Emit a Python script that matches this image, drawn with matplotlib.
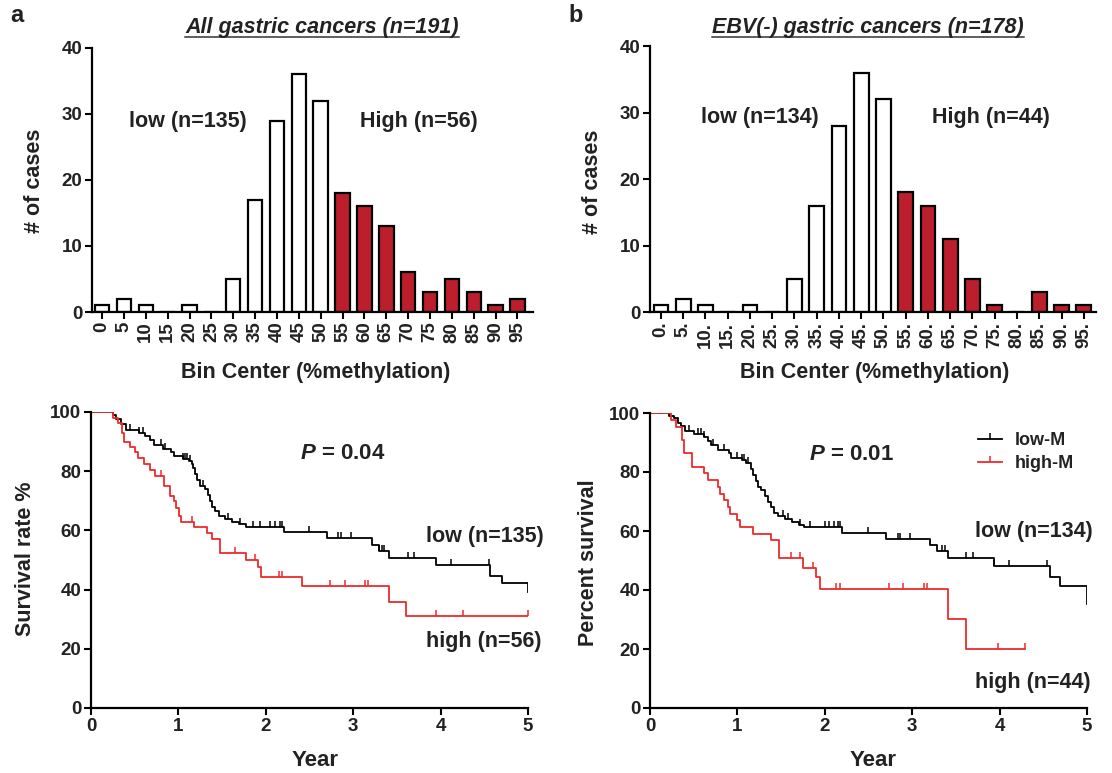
import numpy as np
import matplotlib
matplotlib.use('Agg')
import matplotlib.pyplot as plt
from matplotlib.lines import Line2D

plt.rcParams['font.family'] = ['Liberation Sans', 'DejaVu Sans']
plt.rcParams['font.weight'] = 'bold'
plt.rcParams['axes.labelweight'] = 'bold'
plt.rcParams['mathtext.fontset'] = 'custom'
plt.rcParams['mathtext.it'] = 'Liberation Sans:italic:bold'
plt.rcParams['mathtext.rm'] = 'Liberation Sans:bold'

# ---- histogram data ----
bins = list(range(0, 100, 5))
counts_all = [1, 2, 1, 0, 1, 0, 5, 17, 29, 36, 32, 18, 16, 13, 6, 3, 5, 3, 1, 2]
counts_ebv = [1, 2, 1, 0, 1, 0, 5, 16, 28, 36, 32, 18, 16, 11, 5, 1, 0, 3, 1, 1]
labels_all = [str(b) for b in bins]
labels_ebv = [str(b) + '.' for b in bins]
high_cut = 55

# ---- Kaplan-Meier data (year, % survival after event) ----
a_low_t = [0, 0.25, 0.29, 0.34, 0.40, 0.55, 0.62, 0.67, 0.72, 0.82, 0.92, 0.95, 1.05, 1.12,
           1.15, 1.17, 1.19, 1.21, 1.25, 1.30, 1.34, 1.36, 1.38, 1.42, 1.46, 1.53, 1.61, 1.69,
           1.77, 2.21, 2.70, 3.21, 3.29, 3.41, 3.95, 4.57, 4.70, 5.0]
a_low_s = [100, 99, 97.5, 96, 94, 93, 92, 90.5, 89, 87.5, 86.5, 85, 84, 83.5,
           82.5, 81, 79, 77, 75, 74, 72, 70, 68, 66.5, 65, 64, 63, 62,
           61, 59.3, 57.3, 55, 53, 50.8, 48.4, 44.6, 42.1, 39.3]
a_low_cens = [0.45, 0.55, 0.60, 0.80, 0.85, 1.05, 1.08, 1.10, 1.13, 1.28, 1.57, 1.70, 1.85,
              1.93, 2.05, 2.10, 2.16, 2.19, 2.49, 2.83, 2.86, 2.97, 3.30, 3.33, 3.35, 3.63,
              3.69, 4.12, 4.55]
a_high_t = [0, 0.25, 0.31, 0.35, 0.38, 0.45, 0.50, 0.54, 0.61, 0.67, 0.73, 0.84, 0.90, 0.95,
            0.97, 1.01, 1.03, 1.18, 1.33, 1.39, 1.48, 1.77, 1.91, 1.95, 2.41, 3.41, 3.60, 5.0]
a_high_s = [100, 98, 96.3, 93, 90, 88.2, 86.4, 84.6, 82.6, 80.5, 78.5, 75, 71.5, 69.8,
            67.5, 65, 63, 61, 59, 57, 52.5, 50, 47.5, 44.3, 41.2, 35.9, 31.1, 31.1]
a_high_cens = [0.80, 1.16, 1.65, 1.88, 2.15, 2.19, 2.73, 2.91, 3.13, 3.17, 3.95, 4.26, 5.0]

b_low_t = [0, 0.22, 0.27, 0.32, 0.35, 0.40, 0.50, 0.62, 0.66, 0.70, 0.78, 0.90, 0.93, 1.05,
           1.10, 1.15, 1.18, 1.21, 1.23, 1.27, 1.32, 1.35, 1.38, 1.42, 1.47, 1.55, 1.63, 1.70,
           1.76, 2.20, 2.70, 3.20, 3.28, 3.41, 3.94, 4.58, 4.69, 5.0]
b_low_s = [100, 99, 98.2, 96.5, 95.5, 94, 93, 92, 90.5, 89, 87.5, 86.3, 84.6, 84,
           83, 81, 79, 77, 75, 74, 72, 70, 68, 66, 65, 64, 63, 62,
           61.2, 59.3, 57.3, 55.3, 53.3, 50.7, 48.2, 44.5, 41.4, 35.3]
b_low_cens = [0.45, 0.55, 0.58, 0.62, 0.72, 0.85, 1.00, 1.05, 1.08, 1.12, 1.52, 1.58, 1.72,
              1.83, 2.00, 2.05, 2.10, 2.15, 2.17, 2.49, 2.84, 2.86, 2.97, 3.34, 3.38, 3.62,
              3.69, 3.94, 4.11, 4.54]
b_high_t = [0, 0.24, 0.30, 0.37, 0.39, 0.48, 0.62, 0.66, 0.78, 0.80, 0.85, 0.89, 0.92, 0.99,
            1.03, 1.18, 1.38, 1.48, 1.75, 1.90, 1.95, 3.41, 3.61, 4.29]
b_high_s = [100, 97.7, 95.4, 90.9, 86.4, 81.8, 79.5, 77.3, 75.0, 72.7, 70.5, 68.2, 65.9, 63.6,
            61.4, 59.1, 56.8, 50.7, 47.4, 44.3, 40.3, 30.2, 20.1, 20.1]
b_high_cens = [1.61, 1.72, 1.87, 2.13, 2.17, 2.73, 2.90, 3.13, 3.17, 3.98, 4.29]

RED_BAR = '#bd1e2b'
RED_LINE = '#ee2a2a'
TXT = '#222222'
FS = 15.5

fig = plt.figure(figsize=(11.12, 7.73), dpi=100)
W, H = 1112.0, 773.0


def px_axes(l, t, r, b):
    return fig.add_axes([l / W, 1 - b / H, (r - l) / W, (b - t) / H])


def style(ax):
    for s in ['top', 'right']:
        ax.spines[s].set_visible(False)
    for s in ['left', 'bottom']:
        ax.spines[s].set_linewidth(1.6)
    ax.tick_params(width=1.5, length=5, labelsize=13.5, pad=2, labelcolor=TXT)


def place_labels(ax, xc, yc):
    ax.xaxis.label.set_va('center')
    ax.yaxis.label.set_va('center')
    ax.xaxis.set_label_coords(*xc)
    ax.yaxis.set_label_coords(*yc)


def hist(ax, counts, labels, xlim):
    x = np.arange(len(bins))
    cols = [RED_BAR if b >= high_cut else 'white' for b in bins]
    ax.bar(x, counts, width=0.66, color=cols, edgecolor='black', linewidth=1.6)
    ax.set_xlim(*xlim)
    ax.set_ylim(0, 40)
    ax.set_yticks([0, 10, 20, 30, 40])
    ax.set_xticks(x)
    ax.set_xticklabels(labels, rotation=90, fontsize=12.5)
    style(ax)
    ax.set_ylabel('# of cases', fontsize=FS, color=TXT)
    ax.set_xlabel('Bin Center (%methylation)', fontsize=FS, color=TXT)


def km(ax, t, s, cens, color):
    ax.step(t, s, where='post', color=color, lw=1.3)
    t = np.asarray(t)
    cy = [s[np.searchsorted(t, c, side='right') - 1] for c in cens]
    ax.plot(cens, cy, ls='none', marker=2, ms=4.5, mew=1.1, color=color)


def km_axes(ax, ylabel):
    ax.set_xlim(0, 5)
    ax.set_ylim(0, 100)
    ax.set_xticks(range(6))
    ax.set_yticks(range(0, 101, 20))
    style(ax)
    ax.set_ylabel(ylabel, fontsize=FS, color=TXT)
    ax.set_xlabel('Year', fontsize=FS + 0.5, color=TXT)


def note(ax, x, y, s, size=FS):
    ax.text(x, y, s, transform=ax.transAxes, ha='center', va='center', fontsize=size, color=TXT)


# ---- panel a histogram ----
ax1 = px_axes(92, 48, 533, 312)
hist(ax1, counts_all, labels_all, (-0.46, 19.71))
note(ax1, 0.218, 0.723, 'low (n=135)')
note(ax1, 0.741, 0.723, 'High (n=56)')
place_labels(ax1, (0.508, -0.231), (-0.13, 0.496))

# ---- panel b histogram ----
ax2 = px_axes(650, 46, 1096, 312)
hist(ax2, counts_ebv, labels_ebv, (-0.49, 19.55))
note(ax2, 0.247, 0.733, 'low (n=134)')
note(ax2, 0.765, 0.733, 'High (n=44)')
place_labels(ax2, (0.504, -0.229), (-0.128, 0.489))

# ---- panel a survival ----
ax3 = px_axes(91, 412, 528, 708)
km(ax3, a_low_t, a_low_s, a_low_cens, 'black')
km(ax3, a_high_t, a_high_s, a_high_cens, RED_LINE)
km_axes(ax3, 'Survival rate %')
note(ax3, 0.577, 0.861, r'$P$ = 0.04', size=FS + 0.5)
note(ax3, 0.901, 0.581, 'low (n=135)')
note(ax3, 0.899, 0.226, 'high (n=56)')
place_labels(ax3, (0.512, -0.176), (-0.15, 0.503))

# ---- panel b survival ----
ax4 = px_axes(650, 413, 1087, 708)
km(ax4, b_low_t, b_low_s, b_low_cens, 'black')
km(ax4, b_high_t, b_high_s, b_high_cens, RED_LINE)
km_axes(ax4, 'Percent survival')
note(ax4, 0.46, 0.861, r'$P$ = 0.01', size=FS + 0.5)
note(ax4, 0.878, 0.597, 'low (n=134)')
note(ax4, 0.876, 0.085, 'high (n=44)')
place_labels(ax4, (0.51, -0.178), (-0.14, 0.493))
handles = [Line2D([], [], color='black', lw=1.3, marker=2, ms=4.5, mew=1.1),
           Line2D([], [], color=RED_LINE, lw=1.3, marker=2, ms=4.5, mew=1.1)]
ax4.legend(handles, ['low-M', 'high-M'], loc='upper left', bbox_to_anchor=(0.751, 0.935),
           frameon=False, fontsize=13, handlelength=1.33, handletextpad=0.72,
           labelspacing=0.35, borderpad=0, borderaxespad=0, labelcolor=TXT)

# ---- titles and panel letters ----
t1 = fig.text(322 / W, 1 - 28 / H, 'All gastric cancers (n=191)', ha='center', va='center',
              fontsize=FS, style='italic', color=TXT)
t2 = fig.text(868 / W, 1 - 27 / H, 'EBV(-) gastric cancers (n=178)', ha='center', va='center',
              fontsize=FS, style='italic', color=TXT)
fig.text(10 / W, 1 - 15 / H, 'a', ha='left', va='center', fontsize=17, color=TXT)
fig.text(568 / W, 1 - 15 / H, 'b', ha='left', va='center', fontsize=17, color=TXT)

fig.canvas.draw()
inv = fig.transFigure.inverted()
for t in (t1, t2):
    bb = t.get_window_extent()
    (x0, y0), (x1, _) = inv.transform([(bb.x0, bb.y0 + 1), (bb.x1, bb.y0 + 1)])
    fig.add_artist(Line2D([x0, x1], [y0, y0], transform=fig.transFigure, color='#333333', lw=1.1))

fig.savefig('out.png', dpi=100)
